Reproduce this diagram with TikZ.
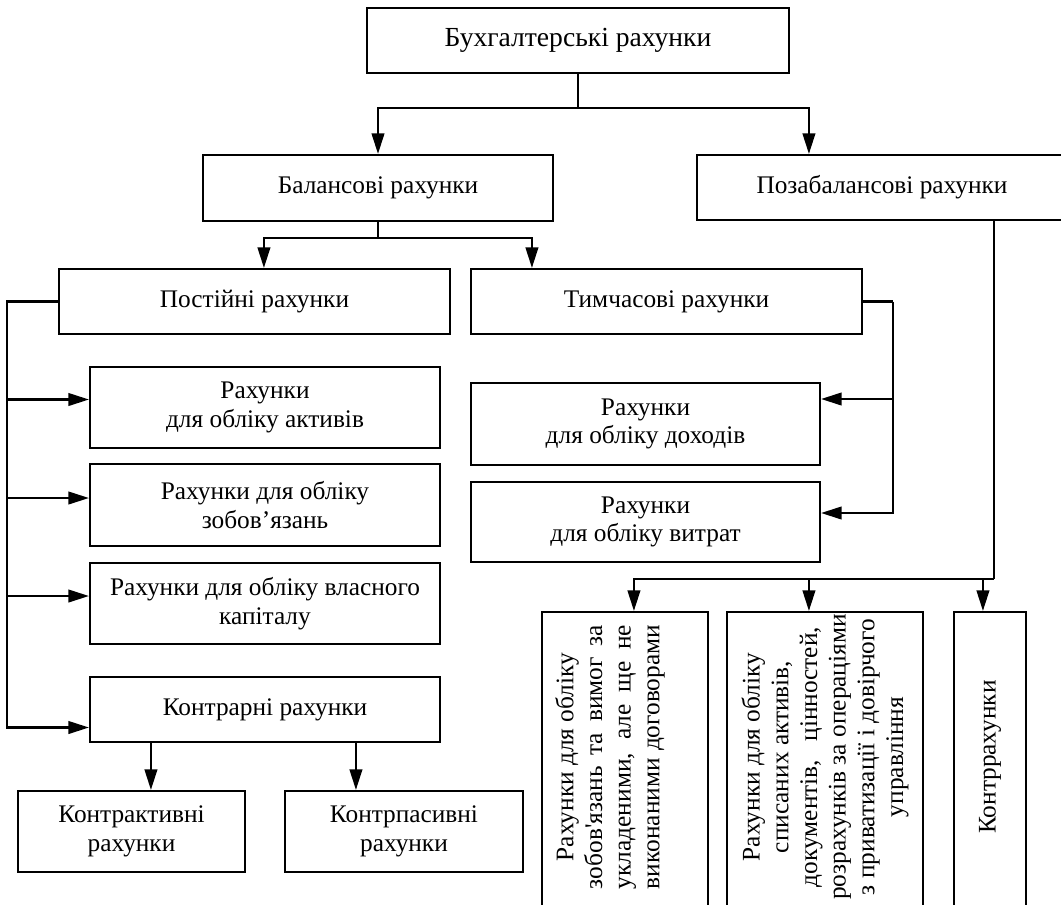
\documentclass[tikz,border=0pt]{standalone}
\usepackage{fontspec}
\setmainfont{Liberation Serif}
\usetikzlibrary{arrows.meta,calc}
\newcommand\labelfont{\fontsize{19}{21.5}\selectfont}
\newcommand\titlefont{\fontsize{20.7}{23}\selectfont}
\newlength\textrowlen
\setlength\textrowlen{198pt}
\begin{document}
\begin{tikzpicture}[x=0.75pt,y=-0.75pt,
  box/.style={draw, line width=1.6pt, inner sep=0pt, align=center, font=\labelfont},
  span/.style args={#1/#2/#3/#4}{minimum width={(#3-#1)*0.75pt},
     minimum height={(#4-#2)*0.75pt}, at={({(#1+#3)/2},{(#2+#4)/2})}},
  vlabel/.style={rotate=90, align=center, inner sep=0pt, font=\labelfont},
  link/.style={line width=1.6pt},
  arr/.style={link, -{Triangle[length=15.5pt,width=9.5pt]}}]
\useasboundingbox (0,0) rectangle (1061,904);
\clip (0,0) rectangle (1061,904);

% levels of the classification
\node[box, span=367/8/789/73, font=\titlefont] (top) {Бухгалтерські рахунки};
\node[box, span=203/155/553/221] (bal) {Балансові рахунки};
\node[box, span=697/155/1067/220] (poza) {Позабалансові рахунки};
\node[box, span=59/269/450/334] (post) {Постійні рахунки};
\node[box, span=471/269/862/334] (tym) {Тимчасові рахунки};

% permanent accounts
\node[box, span=90/367/440/448] (akt) {Рахунки\\для обліку активів};
\node[box, span=90/464/440/546] (zob) {Рахунки для обліку\\зобов’язань};
\node[box, span=90/563/440/644] (kap) {Рахунки для обліку власного\\капіталу};
\node[box, span=90/677/440/742] (kontr) {Контрарні рахунки};
\node[box, span=18/791/245/872] (kakt) {Контрактивні\\рахунки};
\node[box, span=285/791/523/872] (kpas) {Контрпасивні\\рахунки};

% temporary accounts
\node[box, span=471/383/820/465] (dokh) {Рахунки\\для обліку доходів};
\node[box, span=471/482/820/562] (vytr) {Рахунки\\для обліку витрат};

% off-balance accounts (tall boxes with vertical text)
\node[box, span=542/612/708/906] (v1) {};
\node[box, span=727/612/923/906] (v2) {};
\node[box, span=954/612/1026/906] (v3) {};
\node[vlabel] (v1t) at ($(v1.center)+(-15,-2)$) {Рахунки для обліку\\
  \makebox[\textrowlen][s]{зобов\textquotesingle язань та вимог за}\\
  \makebox[\textrowlen][s]{укладеними, але ще не}\\
  \makebox[\textrowlen][s]{виконаними договорами}};
\node[vlabel] (v2t) at ($(v2.center)+(0,-2)$) {Рахунки для обліку\\
  списаних активів,\\
  \makebox[195pt][s]{документів, цінностей,}\\
  розрахунків за операціями\\
  з приватизації і довірчого\\
  управління};
\node[vlabel] (v3t) at ($(v3.center)+(0,-2)$) {Контррахунки};

% top level connectors
\draw[link] (top.south) -- ++(0,34) coordinate (t1);
\draw[arr] (t1) -| (bal.north);
\draw[arr] (t1) -| ($(poza.north west)+(113,0)$);

% balance accounts
\draw[link] (bal.south) -- ++(0,16) coordinate (b1);
\draw[arr] (b1) -| ($(post.north west)+(206,0)$);
\draw[arr] (b1) -| ($(tym.north west)+(62,0)$);

% bus on the left
\coordinate (akt-in) at ($(akt.west)+(0,-8)$);
\coordinate (zob-in) at ($(zob.west)+(0,-7)$);
\coordinate (kap-in) at ($(kap.west)+(0,-7.5)$);
\draw[arr] (post.west) -- ++(-51,0) coordinate (bus) |- ($(kontr.west)+(0,18)$);
\draw[arr] (bus |- akt-in) -- (akt-in);
\draw[arr] (bus |- zob-in) -- (zob-in);
\draw[arr] (bus |- kap-in) -- (kap-in);

% contra accounts
\coordinate (k1) at ($(kontr.south west)+(62,0)$);
\coordinate (k2) at ($(kontr.south west)+(267,0)$);
\draw[arr] (k1) -- (k1 |- kakt.north);
\draw[arr] (k2) -- (k2 |- kpas.north);

% temporary accounts bus
\draw[link] (tym.east) -- ++(30,0) coordinate (r1);
\coordinate (dokh-in) at ($(dokh.east)+(0,-25)$);
\coordinate (vytr-in) at ($(vytr.east)+(0,-9)$);
\draw[arr] (r1) |- (vytr-in);
\draw[arr] (r1 |- dokh-in) -- (dokh-in);

% off-balance bus
\coordinate (z1) at ($(poza.south west)+(298,0)$);
\draw[link] (z1) -- ++(0,358) coordinate (z2);
\draw[arr] (z2) -| ($(v1.north west)+(93,0)$);
\draw[arr] (z2) -| ($(v2.north west)+(83,0)$);
\draw[arr] (z2) -| ($(v3.north west)+(30,0)$);
\end{tikzpicture}
\end{document}
